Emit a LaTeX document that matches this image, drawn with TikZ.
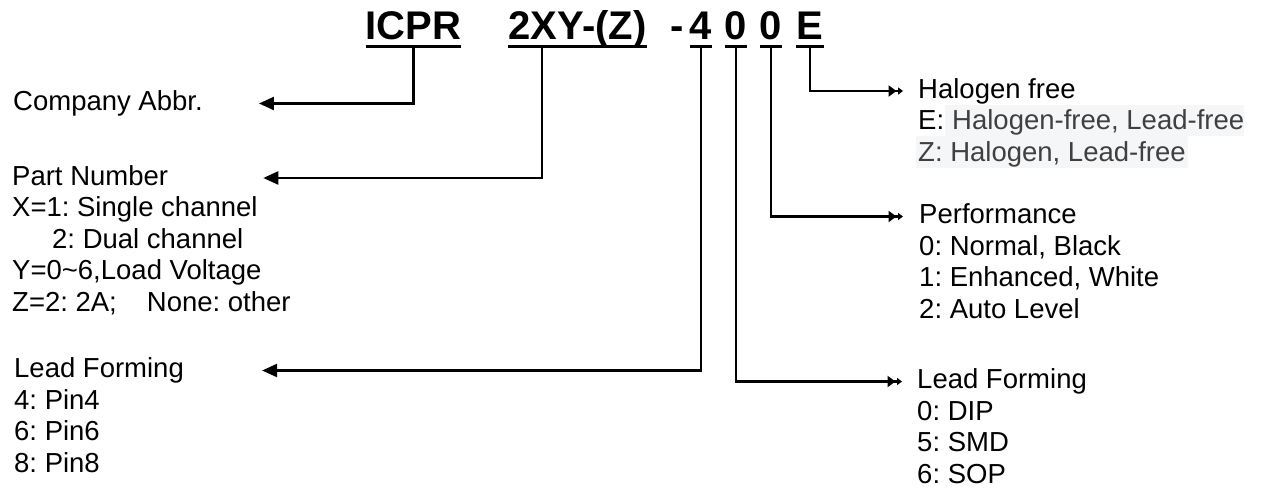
\documentclass[tikz,border=0pt]{standalone}
\usepackage{fontspec}
\setmainfont{Liberation Sans}
\usetikzlibrary{arrows.meta}
\definecolor{hlbg}{RGB}{245,246,248}
\definecolor{txtgray}{RGB}{64,64,64}
\frenchspacing
\begin{document}
\begin{tikzpicture}[x=1pt,y=-1pt,
  ttl/.style={font=\fontsize{40}{46}\selectfont\bfseries, inner sep=0pt, anchor=base},
  lbl/.style={font=\fontsize{27.5}{31.5}\selectfont\frenchspacing, inner sep=0pt, anchor=base west, text height=20pt, text depth=6pt},
  hl/.style={fill=hlbg, text=txtgray, text height=25pt, text depth=6.5pt},
  uline/.style={line width=3pt},
  conn/.style={line width=2.3pt},
  la/.style={conn, -{Triangle[length=15pt,width=13pt]}},
  ra/.style={conn, -{Triangle[length=8pt,width=11pt,sep=1.5pt] Triangle[length=5pt,width=7pt]}}
]
\useasboundingbox (0,0) rectangle (1265,490);

% title
\node[ttl] (t1) at (413.5,39) {ICPR};
\node[ttl] (t2) at (577.5,39) {2XY-(Z)};
\node[ttl] (t3) at (677,39) {-};
\node[ttl] (t4) at (701,39) {4};
\node[ttl] (t5) at (736,39) {0};
\node[ttl] (t6) at (771,39) {0};
\node[ttl] (t7) at (810,39) {E};
\foreach \n in {t1,t2,t4,t5,t6,t7}
  \draw[uline] ([yshift=-7pt]\n.base west) -- ([yshift=-7pt]\n.base east);

% left texts
\node[lbl] (ca) at (13,110.5) {Company Abbr.};
\node[lbl] (pn) at (12,185) {Part Number};
\node[lbl] (pn1) at (12,216.5) {X=1: Single channel};
\node[lbl] (pn2) at (52,248) {2: Dual channel};
\node[lbl] (pn3) at (12,279.5) {Y=0\textasciitilde 6,Load Voltage};
\node[lbl] (pn4) at (12,311) {Z=2: 2A;\hspace{30pt}None: other};
\node[lbl] (llf) at (14,377.5) {Lead Forming};
\node[lbl] (llf1) at (14,409) {4: Pin4};
\node[lbl] (llf2) at (14,440.5) {6: Pin6};
\node[lbl] (llf3) at (14,472) {8: Pin8};

% right texts
\node[lbl] (hal) at (918,98) {Halogen free};
\node[lbl] (hal1a) at (918,129.5) {E:};
\node[lbl,hl,inner xsep=0pt] (hal1b) at (hal1a.base east) {~Halogen-free, Lead-free\hspace{2pt}};
\node[lbl,hl,inner xsep=2pt] (hal2) at (916,161) {Z: Halogen, Lead-free};
\node[lbl] (perf) at (919,223.5) {Performance};
\node[lbl] (perf1) at (919,255) {0: Normal, Black};
\node[lbl] (perf2) at (919,286.5) {1: Enhanced, White};
\node[lbl] (perf3) at (919,318) {2: Auto Level};
\node[lbl] (rlf) at (917,388.5) {Lead Forming};
\node[lbl] (rlf1) at (917,420) {0: DIP};
\node[lbl] (rlf2) at (917,451.5) {5: SMD};
\node[lbl] (rlf3) at (917,483) {6: SOP};

% connectors
\draw[la, shorten >=56pt] ([yshift=-7pt]t1.base) |- (ca.east);
\draw[la, shorten >=95pt] ([xshift=-35.5pt,yshift=-7pt]t2.base) |- (pn.east);
\draw[la, shorten >=78pt] ([yshift=-7pt]t4.base) |- (llf.east);
\draw[ra, shorten >=15pt] ([yshift=-7pt]t5.base) |- (rlf.west);
\draw[ra, shorten >=16pt] ([yshift=-7pt]t6.base) |- (perf.west);
\draw[ra, shorten >=15pt] ([yshift=-7pt]t7.base) |- (hal.west);
\end{tikzpicture}
\end{document}
